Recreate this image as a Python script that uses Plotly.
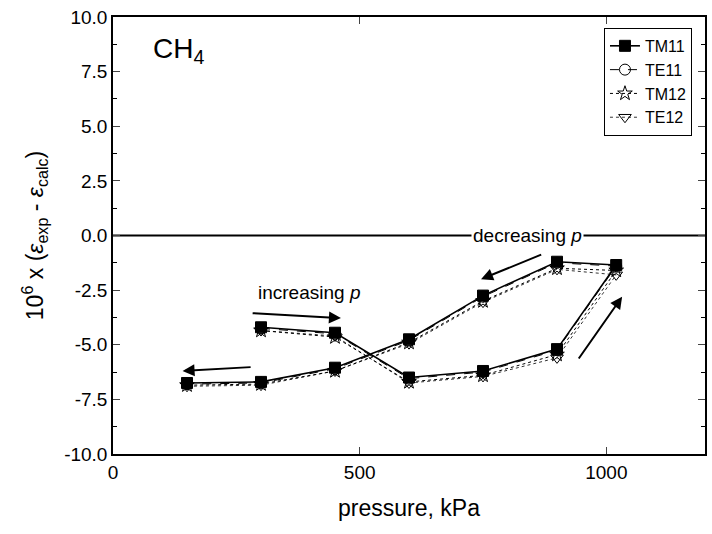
import plotly.graph_objects as go

pressure = [300, 450, 600, 750, 900, 1020, 900, 750, 600, 450, 300, 150]
TM11 = [-4.2, -4.45, -6.5, -6.2, -5.2, -1.35, -1.2, -2.75, -4.75, -6.05, -6.7, -6.75]
TE11 = [-4.25, -4.5, -6.55, -6.25, -5.25, -1.4, -1.25, -2.8, -4.8, -6.1, -6.75, -6.8]
TM12 = [-4.35, -4.65, -6.7, -6.4, -5.45, -1.6, -1.5, -3.0, -4.9, -6.2, -6.8, -6.85]
TE12 = [-4.35, -4.6, -6.75, -6.45, -5.6, -1.8, -1.55, -3.05, -4.95, -6.2, -6.85, -6.9]

series = [
    ("TM11", TM11, "solid", "square", 1.6),
    ("TE11", TE11, "dash", "circle-open", 1.0),
    ("TM12", TM12, "dot", "star-open", 1.0),
    ("TE12", TE12, "dot", "triangle-down-open", 0.8),
]

fig = go.Figure()
for name, vals, dash, sym, lw in series:
    fig.add_trace(go.Scatter(
        x=pressure, y=vals, name=name, mode="lines+markers",
        line=dict(color="black", width=lw, dash=dash),
        marker=dict(symbol=sym, size=11, color="black", line=dict(color="black", width=1)),
    ))

# zero line
fig.add_shape(type="line", xref="x", yref="y", x0=0, x1=1200, y0=0, y1=0,
              line=dict(color="black", width=2), layer="below")

arrows = [
    (462, -3.78, 280, -3.55),
    (141, -6.2, 282, -6.02),
    (746, -2.0, 871, -0.85),
    (1032, -2.8, 942, -5.7),
]
for hx, hy, tx, ty in arrows:
    fig.add_annotation(x=hx, y=hy, ax=tx, ay=ty, xref="x", yref="y", axref="x", ayref="y",
                       text="", showarrow=True, arrowhead=2, arrowsize=1.2, arrowwidth=2,
                       arrowcolor="black")

fig.add_annotation(x=78, y=8.45, xref="x", yref="y", text="CH<sub>4</sub>", showarrow=False,
                   xanchor="left", font=dict(size=28, color="black"))
fig.add_annotation(x=397, y=-2.63, xref="x", yref="y", text="increasing <i>p</i>", showarrow=False,
                   font=dict(size=19, color="black"))
fig.add_annotation(x=841, y=0, xref="x", yref="y", text="decreasing <i>p</i>", showarrow=False,
                   bgcolor="white", font=dict(size=19, color="black"))

fig.update_layout(
    width=712, height=534,
    margin=dict(l=113, r=5, t=17, b=80),
    paper_bgcolor="white", plot_bgcolor="white",
    font=dict(family="Liberation Sans, Arial", color="black", size=19),
    legend=dict(x=0.978, y=0.975, xanchor="right", yanchor="top",
                bordercolor="black", borderwidth=1, bgcolor="white",
                font=dict(size=16), tracegroupgap=0, itemwidth=30),
    showlegend=True,
)
fig.update_xaxes(range=[0, 1200], tickvals=[0, 500, 1000], ticks="inside", ticklen=7,
                 showline=True, linecolor="black", linewidth=1.5, mirror="ticks",
                 showgrid=False, zeroline=False,
                 title=dict(text="pressure, kPa", font=dict(size=23), standoff=18),
                 tickfont=dict(size=19))
fig.update_yaxes(range=[-10, 10], tickvals=[-10, -7.5, -5, -2.5, 0, 2.5, 5, 7.5, 10],
                 ticktext=["-10.0", "-7.5", "-5.0", "-2.5", "0.0", "2.5", "5.0", "7.5", "10.0"],
                 ticks="inside", ticklen=7,
                 minor=dict(tickvals=[-8.75, -6.25, -3.75, -1.25, 1.25, 3.75, 6.25, 8.75],
                            ticks="inside", ticklen=4, tickcolor="black"),
                 showline=True, linecolor="black", linewidth=1.5, mirror="ticks",
                 showgrid=False, zeroline=False,
                 title=dict(text="10<sup>6</sup> x (<i>ε</i><sub>exp</sub> - <i>ε</i><sub>calc</sub>)",
                            font=dict(size=23), standoff=14),
                 tickfont=dict(size=19))

fig.write_html("out.html")
